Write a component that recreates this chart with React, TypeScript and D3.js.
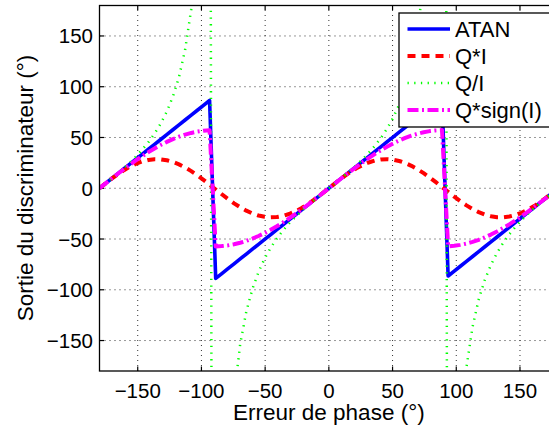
import React from "react";
import * as d3 from "d3";

const phase = [-180, -175.2, -170.4, -165.6, -160.8, -156, -151.2, -146.4, -141.6, -136.8, -132, -127.2, -122.4, -117.6, -112.8, -108, -103.2, -98.4, -93.6,
  -88.8, -84, -79.2, -74.4, -69.6, -64.8, -60, -55.2, -50.4, -45.6, -40.8, -36, -31.2, -26.4, -21.6, -16.8, -12, -7.2, -2.4,
  2.4, 7.2, 12, 16.8, 21.6, 26.4, 31.2, 36, 40.8, 45.6, 50.4, 55.2, 60, 64.8, 69.6, 74.4, 79.2, 84, 88.8,
  93.6, 98.4, 103.2, 108, 112.8, 117.6, 122.4, 127.2, 132, 136.8, 141.6, 146.4, 151.2, 156, 160.8, 165.6, 170.4, 175.2, 180];

const atanVals = [0, 4.8, 9.6, 14.4, 19.2, 24, 28.8, 33.6, 38.4, 43.2, 48, 52.8, 57.6, 62.4, 67.2, 72, 76.8, 81.6, 86.4,
  -88.8, -84, -79.2, -74.4, -69.6, -64.8, -60, -55.2, -50.4, -45.6, -40.8, -36, -31.2, -26.4, -21.6, -16.8, -12, -7.2, -2.4,
  2.4, 7.2, 12, 16.8, 21.6, 26.4, 31.2, 36, 40.8, 45.6, 50.4, 55.2, 60, 64.8, 69.6, 74.4, 79.2, 84, 88.8,
  -86.4, -81.6, -76.8, -72, -67.2, -62.4, -57.6, -52.8, -48, -43.2, -38.4, -33.6, -28.8, -24, -19.2, -14.4, -9.6, -4.8, 0];

const qiVals = [0, 4.78, 9.42, 13.8, 17.79, 21.29, 24.19, 26.41, 27.89, 28.59, 28.49, 27.59, 25.92, 23.52, 20.47, 16.84, 12.74, 8.28, 3.59,
  -1.2, -5.96, -10.55, -14.84, -18.72, -22.07, -24.81, -26.85, -28.14, -28.64, -28.34, -27.25, -25.39, -22.82, -19.61, -15.85, -11.65, -7.12, -2.4,
  2.4, 7.12, 11.65, 15.85, 19.61, 22.82, 25.39, 27.25, 28.34, 28.64, 28.14, 26.85, 24.81, 22.07, 18.72, 14.84, 10.55, 5.96, 1.2,
  -3.59, -8.28, -12.74, -16.84, -20.47, -23.52, -25.92, -27.59, -28.49, -28.59, -27.89, -26.41, -24.19, -21.29, -17.79, -13.8, -9.42, -4.78, 0];

const qdivVals = [0, 4.81, 9.69, 14.71, 19.96, 25.51, 31.5, 38.07, 45.41, 53.8, 63.63, 75.48, 90.28, 109.48, 136.52, 176.34, 244.92, 388.01, 910.68,
  -2735.3, -545.13, -300.36, -205.11, -153.69, -121.6, -99.24, -82.45, -69.26, -58.51, -49.46, -41.63, -34.7, -28.44, -22.69, -17.3, -12.18, -7.24, -2.4,
  2.4, 7.24, 12.18, 17.3, 22.69, 28.44, 34.7, 41.63, 49.46, 58.51, 69.26, 82.45, 99.24, 121.6, 153.69, 205.11, 300.36, 545.13, 2735.3,
  -910.68, -388.01, -244.92, -176.34, -136.52, -109.48, -90.28, -75.48, -63.63, -53.8, -45.41, -38.07, -31.5, -25.51, -19.96, -14.71, -9.69, -4.81, 0];

const qsignVals = [0, 4.79, 9.56, 14.25, 18.84, 23.3, 27.6, 31.71, 35.59, 39.22, 42.58, 45.64, 48.38, 50.78, 52.82, 54.49, 55.78, 56.68, 57.18,
  -57.28, -56.98, -56.28, -55.18, -53.7, -51.84, -49.62, -47.05, -44.15, -40.94, -37.44, -33.68, -29.68, -25.48, -21.09, -16.56, -11.91, -7.18, -2.4,
  2.4, 7.18, 11.91, 16.56, 21.09, 25.48, 29.68, 33.68, 37.44, 40.94, 44.15, 47.05, 49.62, 51.84, 53.7, 55.18, 56.28, 56.98, 57.28,
  -57.18, -56.68, -55.78, -54.49, -52.82, -50.78, -48.38, -45.64, -42.58, -39.22, -35.59, -31.71, -27.6, -23.3, -18.84, -14.25, -9.56, -4.79, 0];

const xTicks = [-150, -100, -50, 0, 50, 100, 150];
const yTicks = [-150, -100, -50, 0, 50, 100, 150];
const legendLabels = ["ATAN", "Q*I", "Q/I", "Q*sign(I)"];

const W = 549, H = 427;
const x = d3.scaleLinear().domain([-180, 180]).range([99.5, 558.2]);
const y = d3.scaleLinear().domain([-180, 180]).range([371, 5.5]);
const FONT = "'Liberation Sans', Arial, Helvetica, sans-serif";

const styles = [
  { color: "#0000ff", width: 3.6, dash: undefined as string | undefined },
  { color: "#ff0000", width: 4, dash: "8,6" },
  { color: "#00ff00", width: 2.5, dash: "1.3,5.4" },
  { color: "#ff00ff", width: 4, dash: "11,3.5,2,3.5" },
];
const series = [atanVals, qiVals, qdivVals, qsignVals];

const fmt = (v: number) => (v < 0 ? "\u2212" + Math.abs(v) : String(v));

export default function App() {
  const line = d3.line<number>().x((_, i) => x(phase[i])).y((d) => y(d));
  const [x0, x1] = x.range();
  const [yb, yt] = y.range();
  return (
    <svg width={W} height={H} style={{ position: "absolute", left: 0, top: 0, background: "#fff" }} fontFamily={FONT}>
      <defs>
        <clipPath id="plotclip">
          <rect x={x0} y={yt} width={x1 - x0} height={yb - yt} />
        </clipPath>
      </defs>
      <rect x={0} y={0} width={W} height={H} fill="#fff" />
      {/* grid */}
      <g stroke="#333" strokeWidth={1} strokeDasharray="1,4">
        {xTicks.map((t) => (
          <line key={"gx" + t} x1={x(t)} x2={x(t)} y1={yb} y2={yt} />
        ))}
        {yTicks.map((t) => (
          <line key={"gy" + t} x1={x0} x2={x1} y1={y(t)} y2={y(t)} />
        ))}
      </g>
      {/* ticks */}
      <g stroke="#000" strokeWidth={1.2}>
        {xTicks.map((t) => (
          <g key={"tx" + t}>
            <line x1={x(t)} x2={x(t)} y1={yb} y2={yb - 4.5} />
            <line x1={x(t)} x2={x(t)} y1={yt} y2={yt + 4.5} />
          </g>
        ))}
        {yTicks.map((t) => (
          <g key={"ty" + t}>
            <line x1={x0} x2={x0 + 4.5} y1={y(t)} y2={y(t)} />
            <line x1={x1} x2={x1 - 4.5} y1={y(t)} y2={y(t)} />
          </g>
        ))}
      </g>
      {/* data */}
      <g clipPath="url(#plotclip)" fill="none">
        {series.map((s, i) => (
          <path
            key={"s" + i}
            d={line(s) || ""}
            stroke={styles[i].color}
            strokeWidth={styles[i].width}
            strokeDasharray={styles[i].dash}
            strokeLinejoin="round"
          />
        ))}
      </g>
      {/* axes box */}
      <rect x={x0} y={yt} width={x1 - x0} height={yb - yt} fill="none" stroke="#000" strokeWidth={1.3} />
      {/* tick labels */}
      <g fontSize={20.5} fill="#000">
        {xTicks.map((t) => (
          <text key={"lx" + t} x={x(t)} y={397.5} textAnchor="middle">
            {fmt(t)}
          </text>
        ))}
        {yTicks.map((t) => (
          <text key={"ly" + t} x={93} y={y(t) + 7.5} textAnchor="end">
            {fmt(t)}
          </text>
        ))}
      </g>
      <text x={(x0 + x1) / 2} y={419.5} textAnchor="middle" fontSize={22.5}>
        Erreur de phase (°)
      </text>
      <text transform={`translate(33,188) rotate(-90)`} textAnchor="middle" fontSize={22.5}>
        Sortie du discriminateur (°)
      </text>
      {/* legend */}
      <g>
        <rect x={399} y={13} width={151} height={114} fill="#fff" stroke="#000" strokeWidth={1.3} />
        {legendLabels.map((lab, i) => {
          const ly = 29 + i * 27;
          return (
            <g key={"lg" + i}>
              <line
                x1={407.5}
                x2={450}
                y1={ly}
                y2={ly}
                stroke={styles[i].color}
                strokeWidth={styles[i].width}
                strokeDasharray={styles[i].dash}
              />
              <text x={455} y={ly + 7.7} fontSize={22}>
                {lab}
              </text>
            </g>
          );
        })}
      </g>
    </svg>
  );
}
